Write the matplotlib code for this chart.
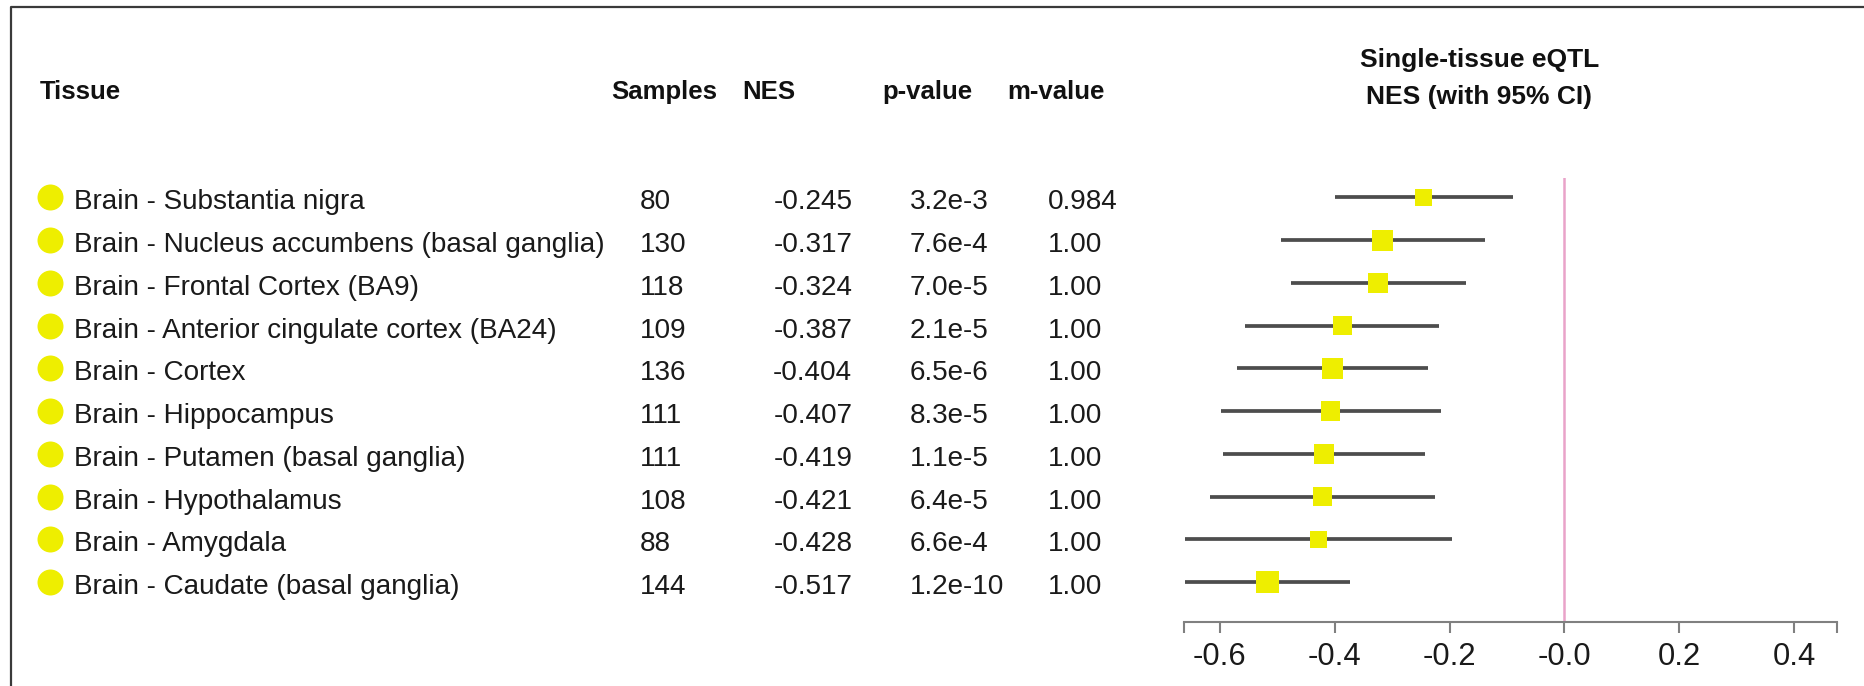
import numpy as np
import matplotlib
matplotlib.use("Agg")
import matplotlib.pyplot as plt

plt.rcParams["font.family"] = ["Liberation Sans", "DejaVu Sans"]

# ---- data -------------------------------------------------------------
tissues = [
    "Brain - Substantia nigra",
    "Brain - Nucleus accumbens (basal ganglia)",
    "Brain - Frontal Cortex (BA9)",
    "Brain - Anterior cingulate cortex (BA24)",
    "Brain - Cortex",
    "Brain - Hippocampus",
    "Brain - Putamen (basal ganglia)",
    "Brain - Hypothalamus",
    "Brain - Amygdala",
    "Brain - Caudate (basal ganglia)",
]
samples = [80, 130, 118, 109, 136, 111, 111, 108, 88, 144]
nes = [-0.245, -0.317, -0.324, -0.387, -0.404, -0.407, -0.419, -0.421, -0.428, -0.517]
ci_low = [-0.400, -0.494, -0.476, -0.556, -0.571, -0.599, -0.595, -0.617, -0.661, -0.661]
ci_high = [-0.090, -0.138, -0.172, -0.219, -0.238, -0.214, -0.243, -0.225, -0.195, -0.373]
p_values = ["3.2e-3", "7.6e-4", "7.0e-5", "2.1e-5", "6.5e-6",
            "8.3e-5", "1.1e-5", "6.4e-5", "6.6e-4", "1.2e-10"]
m_values = ["0.984", "1.00", "1.00", "1.00", "1.00",
            "1.00", "1.00", "1.00", "1.00", "1.00"]
headers = ["Tissue", "Samples", "NES", "p-value", "m-value"]
title_lines = ["Single-tissue eQTL", "NES (with 95% CI)"]
tick_values = [-0.6, -0.4, -0.2, 0.0, 0.2, 0.4]
tick_labels = ["-0.6", "-0.4", "-0.2", "-0.0", "0.2", "0.4"]
x_range = (-0.6626, 0.4746)

# ---- layout (pixels) ---------------------------------------------------
W, H = 1865, 686
ROW0, ROW_STEP = 197.3, 42.75
PLOT_LEFT, PLOT_RIGHT, PLOT_TOP, PLOT_BOTTOM = 1184, 1836.7, 178.3, 621.7
YELLOW = "#eeee00"
TEXT_SIZE = 20.1
HEAD_SIZE = 18.5
BASE_OFF = 12.0

n = len(tissues)
idx = np.arange(n)
row_y = ROW0 + ROW_STEP * idx

fig = plt.figure(figsize=(W / 100, H / 100), dpi=100)
fig.patch.set_facecolor("white")

# table layer in pixel coordinates
tab = fig.add_axes([0, 0, 1, 1])
tab.set_xlim(0, W)
tab.set_ylim(H, 0)
tab.axis("off")

# frame lines (top and left)
tab.plot([11, 11, W], [H, 7, 7], color="#3a3a3a", lw=1.6, solid_capstyle="butt")

# column headers
head_x = [40, 611.7, 742.7, 882.7, 1007.3]
for hx, label in zip(head_x, headers):
    tab.text(hx, 99.3, label, fontsize=HEAD_SIZE, fontweight="bold",
             va="baseline", ha="left", color="#111111")

# forest plot title
tab.text(1479.5, 66.5, title_lines[0], fontsize=19, fontweight="bold",
         ha="center", va="baseline", color="#111111")
tab.text(1479.5, 104.0, title_lines[1], fontsize=19, fontweight="bold",
         ha="center", va="baseline", color="#111111")

# tissue bullets
tab.scatter(np.full(n, 50.3), row_y, s=350, color=YELLOW, linewidths=0, zorder=3)

for i in range(n):
    yb = row_y[i] + BASE_OFF
    tab.text(74, yb, tissues[i], fontsize=TEXT_SIZE, va="baseline", color="#1a1a1a")
    tab.text(640, yb, str(samples[i]), fontsize=TEXT_SIZE, va="baseline", color="#1a1a1a")
    tab.text(852.3, yb, f"{nes[i]:.3f}", fontsize=TEXT_SIZE, va="baseline",
             ha="right", color="#1a1a1a")
    tab.text(910, yb, p_values[i], fontsize=TEXT_SIZE, va="baseline", color="#1a1a1a")
    tab.text(1048.3, yb, m_values[i], fontsize=TEXT_SIZE, va="baseline", color="#1a1a1a")

# forest plot axes
ax = fig.add_axes([PLOT_LEFT / W, 1 - PLOT_BOTTOM / H,
                   (PLOT_RIGHT - PLOT_LEFT) / W, (PLOT_BOTTOM - PLOT_TOP) / H])
ax.patch.set_visible(False)
ax.set_xlim(*x_range)
top_pad = (ROW0 - PLOT_TOP) / ROW_STEP
bottom_pad = (PLOT_BOTTOM - (ROW0 + (n - 1) * ROW_STEP)) / ROW_STEP
ax.set_ylim(n - 1 + bottom_pad, -top_pad)

for side in ["top", "left", "right"]:
    ax.spines[side].set_visible(False)
ax.spines["bottom"].set_color("#808080")
ax.spines["bottom"].set_linewidth(1.5)

ax.axvline(0, color="#e9a3c9", lw=1.8, zorder=1)
ax.hlines(idx, ci_low, ci_high, color="#4d4d4d", lw=2.7, zorder=2)
ax.scatter(nes, idx, marker="s", s=1.774 * np.array(samples), color=YELLOW,
           linewidths=0, zorder=3)

ax.set_yticks([])
ax.set_xticks(tick_values)
ax.set_xticklabels(tick_labels)
ax.set_xticks(list(x_range), minor=True)
ax.tick_params(axis="x", which="both", direction="out", length=8, width=1.5,
               color="#808080")
ax.tick_params(axis="x", which="major", labelsize=22.3, pad=6.5, labelcolor="#1a1a1a")

fig.savefig("out.png", dpi=100, facecolor="white")
